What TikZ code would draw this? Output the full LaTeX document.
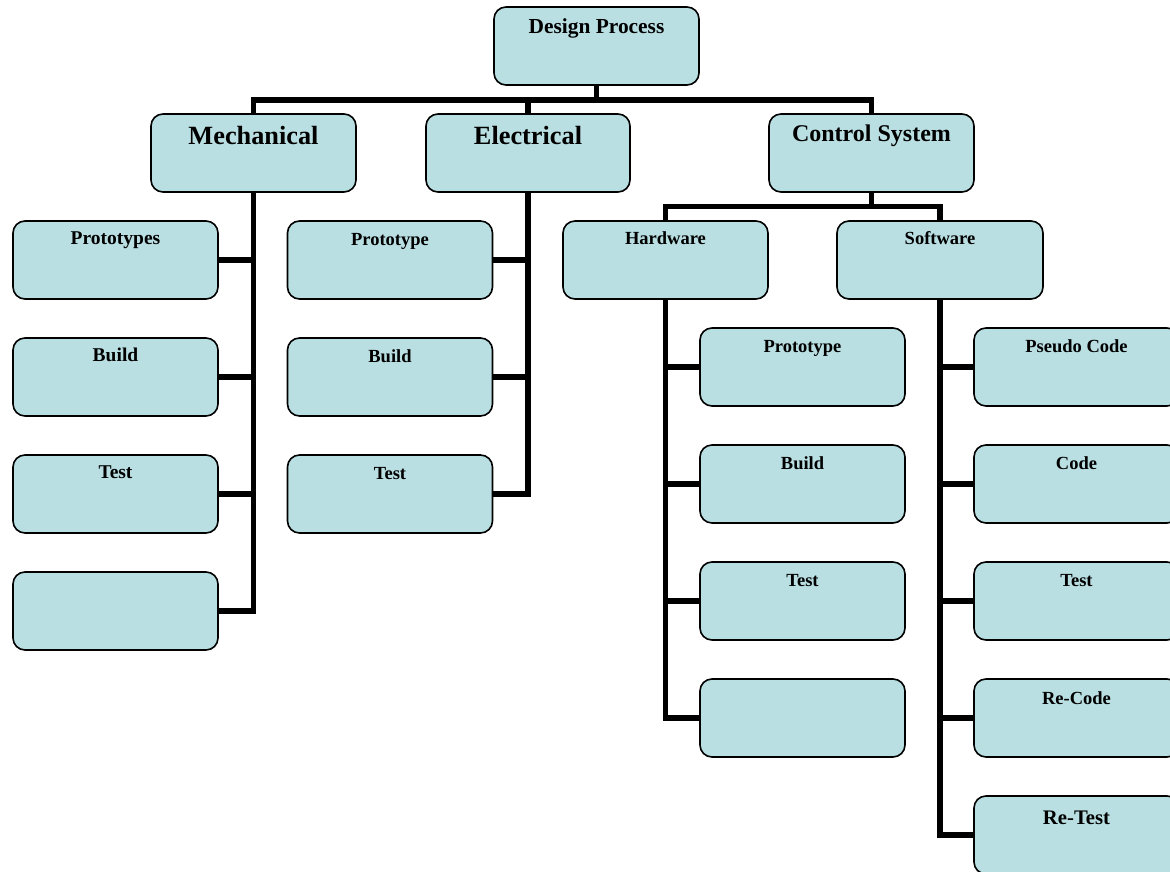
\documentclass[tikz,border=0pt]{standalone}
\usepackage{fontspec}
\setmainfont{Liberation Serif}
\usetikzlibrary{backgrounds}
\definecolor{boxfill}{HTML}{B9DFE2}
\tikzset{
  box/.style={draw=black, line width=1.6pt, fill=boxfill, rounded corners=12pt,
    minimum width=205pt, minimum height=78pt, inner sep=0pt},
  conn/.style={draw=black, line width=5.5pt, line join=miter},
  lbl/.style={anchor=base, inner sep=0pt, font=\bfseries\fontsize{18.5}{20}\selectfont},
  lblm/.style={lbl, font=\bfseries\fontsize{19.5}{21}\selectfont},
  lblbig/.style={lbl, font=\bfseries\fontsize{26.3}{28}\selectfont},
}
\begin{document}
\begin{tikzpicture}[x=1pt,y=-1pt]
\useasboundingbox (0,0) rectangle (1170,872);
\clip (0,0) rectangle (1170,872);
% top
\node[box] (dp) at (596.5,46) {};
\node[lbl, font=\bfseries\fontsize{21.4}{23}\selectfont] (dpt) at ([yshift=-27pt]dp.north) {Design Process};
\node[box] (mech) at (253.5,153) {};
\node[lblbig] (mecht) at ([yshift=-31.7pt]mech.north) {Mechanical};
\node[box, minimum width=204pt] (el) at (528,153) {};
\node[lblbig] (elt) at ([yshift=-31.7pt]el.north) {Electrical};
\node[box] (cs) at (871.5,153) {};
\node[lbl, font=\bfseries\fontsize{24}{26}\selectfont] (cst) at ([yshift=-28.3pt]cs.north) {Control System};
\node[box] (hw) at (665.5,260) {};
\node[lbl] (hwt) at ([yshift=-24.7pt]hw.north) {Hardware};
\node[box, minimum width=206pt] (sw) at (940,260) {};
\node[lbl] (swt) at ([yshift=-24.7pt]sw.north) {Software};
% mechanical children
\node[box] (m1) at (115.5,260) {};
\node[lblm] (m1t) at ([yshift=-24.7pt]m1.north) {Prototypes};
\node[box] (m2) at (115.5,377) {};
\node[lblm] (m2t) at ([yshift=-24.7pt]m2.north) {Build};
\node[box] (m3) at (115.5,494) {};
\node[lblm] (m3t) at ([yshift=-24.7pt]m3.north) {Test};
\node[box] (m4) at (115.5,611) {};
% electrical children
\node[box] (e1) at (390,260) {};
\node[lbl] (e1t) at ([yshift=-25pt]e1.north) {Prototype};
\node[box] (e2) at (390,377) {};
\node[lbl] (e2t) at ([yshift=-25pt]e2.north) {Build};
\node[box] (e3) at (390,494) {};
\node[lbl] (e3t) at ([yshift=-25pt]e3.north) {Test};
% hardware children
\node[box] (h1) at (802.5,367) {};
\node[lbl] (h1t) at ([yshift=-25.5pt]h1.north) {Prototype};
\node[box] (h2) at (802.5,484) {};
\node[lbl] (h2t) at ([yshift=-25.5pt]h2.north) {Build};
\node[box] (h3) at (802.5,601) {};
\node[lbl] (h3t) at ([yshift=-25.5pt]h3.north) {Test};
\node[box] (h4) at (802.5,718) {};
% software children
\node[box] (s1) at (1076.5,367) {};
\node[lbl] (s1t) at ([yshift=-25pt]s1.north) {Pseudo Code};
\node[box] (s2) at (1076.5,484) {};
\node[lbl] (s2t) at ([yshift=-25pt]s2.north) {Code};
\node[box] (s3) at (1076.5,601) {};
\node[lbl] (s3t) at ([yshift=-25pt]s3.north) {Test};
\node[box] (s4) at (1076.5,718) {};
\node[lbl] (s4t) at ([yshift=-26pt]s4.north) {Re-Code};
\node[box] (s5) at (1076.5,835) {};
\node[lbl, font=\bfseries\fontsize{20.7}{22}\selectfont] (s5t) at ([yshift=-29.7pt]s5.north) {Re-Test};
% connectors
\coordinate (bar1) at (0,100);
\coordinate (bar2) at (0,206.5);
\begin{scope}[on background layer]
\draw[conn] (dp.south) -- (dp.south |- bar1);
\draw[conn] (mech.north) -- (mech.north |- bar1) -| (cs.north);
\draw[conn] (el.north) -- (el.north |- bar1);
\draw[conn] (cs.south) -- (cs.south |- bar2);
\draw[conn] (hw.north) -- (hw.north |- bar2) -| (sw.north);
% mechanical
\draw[conn] (mech.south) -- (mech.south |- m4.east) -- (m4.east);
\foreach \c in {m1,m2,m3} \draw[conn] (\c.east) -- (\c.east -| mech.south);
% electrical
\draw[conn] (el.south) -- (el.south |- e3.east) -- (e3.east);
\foreach \c in {e1,e2} \draw[conn] (\c.east) -- (\c.east -| el.south);
% hardware
\draw[conn] (hw.south) -- (hw.south |- h4.west) -- (h4.west);
\foreach \c in {h1,h2,h3} \draw[conn] (\c.west) -- (\c.west -| hw.south);
% software
\draw[conn] (sw.south) -- (sw.south |- s5.west) -- (s5.west);
\foreach \c in {s1,s2,s3,s4} \draw[conn] (\c.west) -- (\c.west -| sw.south);
\end{scope}
\end{tikzpicture}
\end{document}
